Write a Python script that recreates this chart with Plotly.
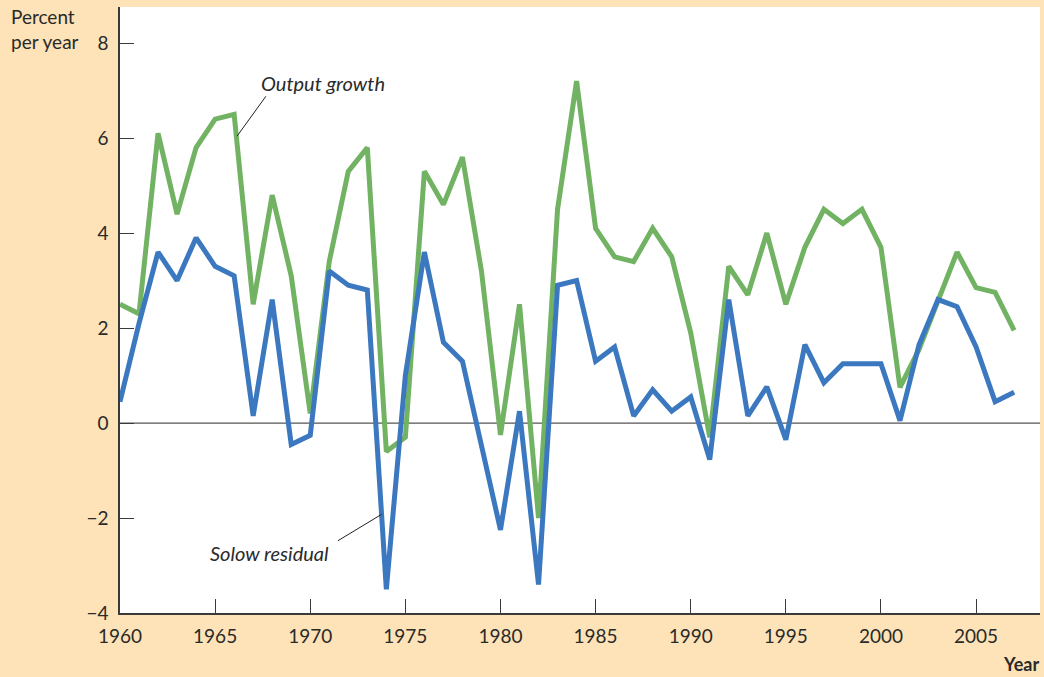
import plotly.graph_objects as go

years = list(range(1960, 2008))
output_growth = [2.5, 2.3, 6.1, 4.4, 5.8, 6.4, 6.5, 2.5, 4.8, 3.1,
                 0.2, 3.4, 5.3, 5.8, -0.6, -0.3, 5.3, 4.6, 5.6, 3.2,
                 -0.25, 2.5, -2.0, 4.5, 7.2, 4.1, 3.5, 3.4, 4.1, 3.5,
                 1.9, -0.3, 3.3, 2.7, 4.0, 2.5, 3.7, 4.5, 4.2, 4.5,
                 3.7, 0.75, 1.55, 2.6, 3.6, 2.85, 2.75, 1.95]
solow_residual = [0.45, 2.1, 3.6, 3.0, 3.9, 3.3, 3.1, 0.15, 2.6, -0.45,
                  -0.26, 3.2, 2.9, 2.8, -3.5, 1.0, 3.6, 1.7, 1.3, -0.5,
                  -2.25, 0.25, -3.4, 2.9, 3.0, 1.3, 1.6, 0.15, 0.7, 0.25,
                  0.55, -0.77, 2.6, 0.15, 0.76, -0.35, 1.65, 0.85, 1.25, 1.25,
                  1.25, 0.05, 1.65, 2.6, 2.45, 1.6, 0.45, 0.65]
x_ticks = [1960, 1965, 1970, 1975, 1980, 1985, 1990, 1995, 2000, 2005]
y_ticks = [-4, -2, 0, 2, 4, 6, 8]

GREEN = "#72B263"
BLUE = "#3B78BF"
BEIGE = "#FDE3B7"
AXIS = "#3a3a3a"
FONT = "Lato"

fig = go.Figure()
fig.add_trace(go.Scatter(x=years, y=output_growth, mode="lines",
                         line=dict(color=GREEN, width=5), name="Output growth"))
fig.add_trace(go.Scatter(x=years, y=solow_residual, mode="lines",
                         line=dict(color=BLUE, width=5), name="Solow residual"))

fig.add_hline(y=0, line=dict(color="#555555", width=1.3), layer="below")

fig.add_shape(type="line", xref="x", yref="y", x0=1967.67, y0=6.88, x1=1966.15, y1=6.04,
              line=dict(color="#222222", width=1))
fig.add_shape(type="line", xref="x", yref="y", x0=1971.45, y0=-2.48, x1=1973.76, y1=-1.92,
              line=dict(color="#222222", width=1))

fig.add_annotation(x=1970.66, y=7.16, xref="x", yref="y", text="<i>Output growth</i>",
                   showarrow=False, font=dict(family=FONT, size=20, color="#2a2a2a"))
fig.add_annotation(x=1967.88, y=-2.74, xref="x", yref="y", text="<i>Solow residual</i>",
                   showarrow=False, font=dict(family=FONT, size=20, color="#2a2a2a"))

fig.add_annotation(x=9, y=677 - 3, xref="paper", yref="paper", text="Percent<br>per year",
                   showarrow=False, xanchor="left", yanchor="top", align="left",
                   font=dict(family=FONT, size=19, color="#2a2a2a"))
fig.add_annotation(x=1041, y=677 - 664, xref="paper", yref="paper", text="<b>Year</b>",
                   showarrow=False, xanchor="right", yanchor="middle",
                   font=dict(family=FONT, size=18, color="#2a2a2a"))

fig.update_layout(
    width=1044, height=677,
    margin=dict(l=120, r=4, t=7, b=64),
    paper_bgcolor=BEIGE, plot_bgcolor="white",
    showlegend=False,
    font=dict(family=FONT, size=19, color="#2a2a2a"),
    xaxis=dict(range=[1960, 2008.36], tickvals=x_ticks, ticks="inside", ticklen=14,
               tickwidth=1.3, tickcolor=AXIS, showline=True, linecolor=AXIS, linewidth=1.5,
               showgrid=False, zeroline=False, tickfont=dict(size=19), ticklabelstandoff=5),
    yaxis=dict(range=[-4, 8.76], tickvals=y_ticks, ticks="inside", ticklen=14,
               tickwidth=1.3, tickcolor=AXIS, showline=True, linecolor=AXIS, linewidth=1.5,
               showgrid=False, zeroline=False, tickfont=dict(size=19), ticklabelstandoff=6),
)

# convert paper annotation pixel positions to paper fractions
W, H = 1044, 677
pl, pr, pt, pb = 120, 4, 7, 64
pw, ph = W - pl - pr, H - pt - pb
anns = list(fig.layout.annotations)
for a in anns:
    if a.xref == "paper":
        a.x = (a.x - pl) / pw
        a.y = (a.y - pb) / ph
fig.layout.annotations = anns

fig.write_html("out.html", config={"displayModeBar": False},
               post_script="document.body.style.margin='0';document.body.style.padding='0';"
                           "document.documentElement.style.overflow='hidden';")
